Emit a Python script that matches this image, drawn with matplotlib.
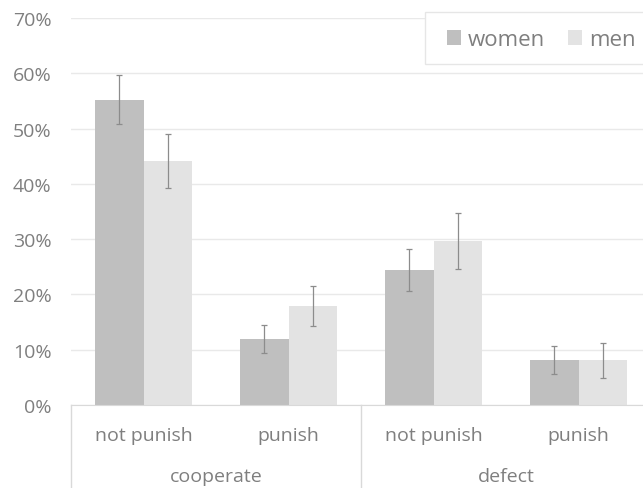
import numpy as np
import matplotlib.pyplot as plt
import matplotlib.transforms as mtransforms
from matplotlib.patches import Rectangle

plt.rcParams['font.family'] = ['Open Sans', 'DejaVu Sans']

# Shares of choices by outcome, with error bars
sub_labels = ["not punish", "punish", "not punish", "punish"]
group_labels = ["cooperate", "defect"]
women = [55.2, 11.9, 24.4, 8.1]
men = [44.1, 17.9, 29.7, 8.1]
women_err = [4.4, 2.5, 3.8, 2.5]
men_err = [4.9, 3.7, 5.1, 3.2]

text_color = "#7f7f7f"
fig = plt.figure(figsize=(6.43, 4.89), dpi=100)
ax = fig.add_axes([71 / 643, 83 / 489, 580 / 643, 387 / 489])

x = np.arange(len(sub_labels))
w = 0.335
err_kw = dict(ecolor="#8c8c8c", elinewidth=0.9, capsize=2, capthick=0.9)
ax.bar(x - w / 2, women, w, yerr=women_err, color="#bfbfbf", label="women",
       error_kw=err_kw, zorder=2)
ax.bar(x + w / 2, men, w, yerr=men_err, color="#e3e3e3", label="men",
       error_kw=err_kw, zorder=2)

ax.set_xlim(-0.5, 3.5)
ax.set_ylim(0, 70)
ax.set_yticks(range(0, 71, 10))
ax.set_yticklabels([f"{v}%" for v in range(0, 71, 10)])
ax.yaxis.grid(True, color="#e9e9e9", linewidth=1, zorder=0)
ax.set_axisbelow(True)
for s in ["top", "right", "left"]:
    ax.spines[s].set_visible(False)
ax.spines["bottom"].set_color("#d9d9d9")
ax.tick_params(axis="y", length=0, pad=14, labelsize=14, labelcolor=text_color)
ax.tick_params(axis="x", length=0, pad=15, labelsize=14, labelcolor=text_color)
ax.set_xticks(x)
ax.set_xticklabels(sub_labels)

# group labels and separators under the axis
trans = mtransforms.blended_transform_factory(ax.transData, ax.transAxes)
for i, g in enumerate(group_labels):
    ax.text(2 * i + 0.5, -0.183, g, transform=trans, ha="center", va="center",
            fontsize=14, color=text_color)
for xs in [-0.5, 1.5, 3.5]:
    ax.plot([xs, xs], [0, -0.25], transform=trans, color="#d9d9d9",
            linewidth=1, clip_on=False)

# legend box runs off the right edge
ax.add_patch(Rectangle((425 / 643, 1 - 65 / 489), 240 / 643, 52 / 489,
                       transform=fig.transFigure, facecolor="white",
                       edgecolor="#e6e6e6", linewidth=1, zorder=5,
                       clip_on=False))
leg = ax.legend(loc="center left", bbox_to_anchor=(447 / 643, 1 - 40.5 / 489),
                bbox_transform=fig.transFigure, ncol=2, fontsize=16,
                frameon=False, borderaxespad=0, borderpad=0,
                handlelength=0.65, handleheight=0.65, handletextpad=0.3,
                columnspacing=1.0)
leg.set_zorder(6)
for t in leg.get_texts():
    t.set_color(text_color)

fig.savefig("out.png", dpi=100)
